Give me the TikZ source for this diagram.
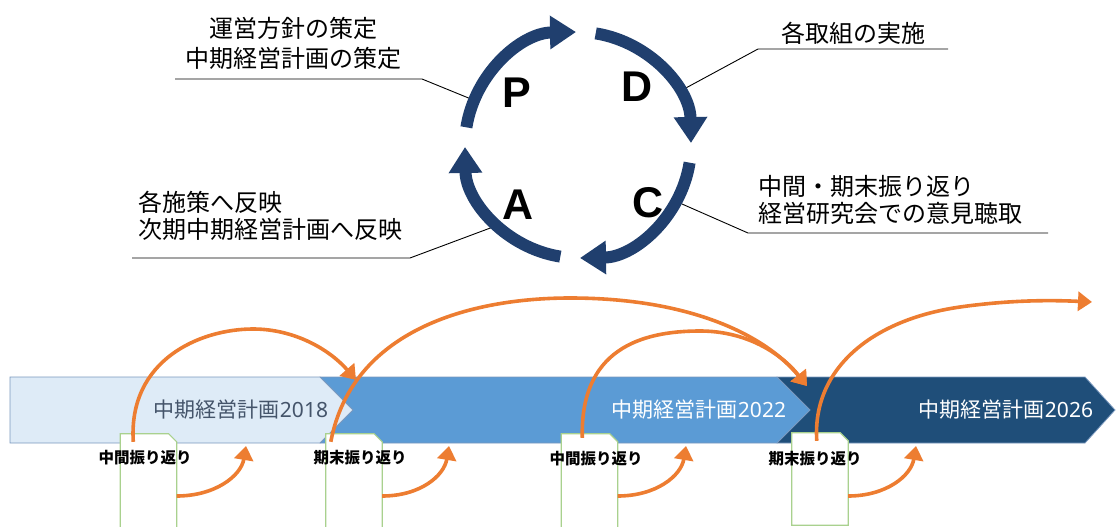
\documentclass[tikz,border=0pt]{standalone}
\usepackage{fontspec}
\newfontfamily\cjk{Noto Sans CJK JP}
\newfontfamily\digits{Noto Sans}
\newfontfamily\arialf{Liberation Sans}
\usetikzlibrary{arrows.meta}
\definecolor{navy}{HTML}{203F6E}
\definecolor{orng}{HTML}{ED7D31}
\definecolor{bandA}{HTML}{DEEBF7}
\definecolor{bandB}{HTML}{5B9BD5}
\definecolor{bandC}{HTML}{1F4E79}
\definecolor{bandedge}{HTML}{7A98BE}
\definecolor{bandtxt}{HTML}{44546A}
\definecolor{docgreen}{HTML}{A9D18E}
\begin{document}
\begin{tikzpicture}[x=1pt,y=-1pt,
  bandtext/.style={font=\cjk\fontsize{21}{24}\selectfont, inner sep=0},
  callout/.style={font=\cjk\fontsize{24}{28}\selectfont, inner sep=0, text=black},
  doclabel/.style={font=\cjk\bfseries\fontsize{15.5}{18}\selectfont, inner sep=0},
  docbox/.style={draw=docgreen, line width=1.2pt, fill=white},
  docnode/.style={minimum width=56pt, minimum height=92pt, inner sep=0},
  leader/.style={draw=black, line width=0.9pt},
  ring/.style={draw=navy, line width=12pt, -{Triangle[width=32pt,length=26pt]}},
  pdca/.style={font=\arialf\bfseries\fontsize{43}{43}\selectfont, inner sep=0},
  oarrow/.style={draw=orng, line width=3.6pt, -{Triangle[width=19pt,length=14pt]}},
  bandshape/.style={draw=bandedge, line width=0.8pt}
]
\useasboundingbox (0,0) rectangle (1117,527);

% ---------- band ----------
\path[bandshape, fill=bandC] (777,377) -- (1085,377) -- (1115,410) -- (1085,443) -- (777,443) -- cycle;
\path[bandshape, fill=bandB] (320,377) -- (777,377) -- (810,410) -- (777,443) -- (320,443) -- cycle;
\path[bandshape, fill=bandA] (10,377) -- (320,377) -- (353,410) -- (320,443) -- (10,443) -- cycle;
\node[bandtext, text=bandtxt] (t2018) at (241,410) {中期経営計画{\digits 2018}};
\node[bandtext, text=white] (t2022) at (699,410) {中期経営計画{\digits 2022}};
\node[bandtext, text=white] (t2026) at (1006,410) {中期経営計画{\digits 2026}};

% ---------- documents ----------
\node[docnode] (d1) at (148.5,480) {};
\node[docnode] (d2) at (354,480) {};
\node[docnode] (d3) at (589.5,480) {};
\node[docnode] (d4) at (820,479) {};
\foreach \d in {d1,d2,d3}{
  \draw[docbox] ([yshift=-10pt]\d.south west) -- (\d.north west) -- ([xshift=-8pt]\d.north east)
     -- ([yshift=-8pt]\d.north east) -- ([yshift=-10pt]\d.south east) -- cycle;
}
\draw[docbox] (d4.south west) -- (d4.north west) -- ([xshift=-8pt]d4.north east)
     -- ([yshift=-8pt]d4.north east) -- (d4.south east) -- cycle;

\node[doclabel] (l1) at (145,458) {中間振り返り};
\node[doclabel] (l2) at (360,458) {期末振り返り};
\node[doclabel] (l3) at (596,459) {中間振り返り};
\node[doclabel] (l4) at (815,459) {期末振り返り};

% ---------- orange arrows ----------
\coordinate (r1) at (246,446);
\coordinate (r2) at (449,446);
\coordinate (r3) at (686,446);
\coordinate (r4) at (916,446);
\draw[oarrow] ([yshift=-16pt]d1.east) .. controls (215,496) and (241,476) .. (r1);
\draw[oarrow] ([yshift=-16pt]d2.east) .. controls (420,496) and (444,476) .. (r2);
\draw[oarrow] ([yshift=-16pt]d3.east) .. controls (656,496) and (681,476) .. (r3);
\draw[oarrow] ([yshift=-17pt]d4.east) .. controls (886,496) and (911,476) .. (r4);

\coordinate (tipA) at (356,380);
\coordinate (tipB) at (807,386);
\coordinate (tipC) at (1092,302);
\draw[oarrow] ([xshift=13pt,yshift=-8pt]d1.north west) .. controls (128,360) and (200,329) .. (253,329)
   .. controls (295,329) and (330,350) .. (tipA);
\draw[oarrow] ([xshift=5pt,yshift=-8pt]d2.north west) .. controls (352,330) and (470,298) .. (570,298)
   .. controls (690,298) and (765,335) .. (tipB);
\draw[oarrow] ([xshift=21pt,yshift=-4pt]d3.north west) .. controls (580,350) and (640,331) .. (700,331)
   .. controls (745,331) and (780,352) .. (tipB);
\draw[oarrow] ([xshift=25pt,yshift=-8pt]d4.north west) .. controls (812,370) and (870,320) .. (960,307)
   .. controls (1010,300) and (1050,300) .. (tipC);

% ---------- callouts ----------
\node[callout, align=center, font=\cjk\fontsize{24}{30}\selectfont] (lp) at (293,43) {運営方針の策定\\中期経営計画の策定};
\node[callout] (ld) at (853,33) {各取組の実施};
\node[callout, align=left, anchor=west, font=\cjk\fontsize{24}{26.5}\selectfont] (lc) at (758,200) {中間・期末振り返り\\経営研究会での意見聴取};
\node[callout, align=left, anchor=west, font=\cjk\fontsize{24}{27}\selectfont] (la) at (138,216) {各施策へ反映\\次期中期経営計画へ反映};

\coordinate (pR) at (471,99);  \coordinate (pK) at (422,79);  \coordinate (pE) at (175,79);
\coordinate (dR) at (684,89);  \coordinate (dK) at (758,49);  \coordinate (dE) at (948,49);
\coordinate (cR) at (682,204); \coordinate (cK) at (748,233); \coordinate (cE) at (1048,233);
\coordinate (aR) at (493,227); \coordinate (aK) at (410,258); \coordinate (aE) at (132,258);
\draw[leader] (pR) -- (pK) -- (pE);
\draw[leader] (dR) -- (dK) -- (dE);
\draw[leader] (cR) -- (cK) -- (cE);
\draw[leader] (aR) -- (aK) -- (aE);

% ---------- PDCA ring ----------
\begin{scope}[shift={(578,145)}, y=1pt]
  \draw[ring] (171:113) arc[start angle=171, end angle=91, radius=113];
  \draw[ring] (81:113) arc[start angle=81, end angle=1, radius=113];
  \draw[ring] (-9:113) arc[start angle=-9, end angle=-89, radius=113];
  \draw[ring] (-99:113) arc[start angle=-99, end angle=-179, radius=113];
\end{scope}
\node[pdca] (P) at (517,93) {P};
\node[pdca] (D) at (637,87) {D};
\node[pdca] (C) at (648,203) {C};
\node[pdca] (A) at (518,205) {A};
\end{tikzpicture}
\end{document}
